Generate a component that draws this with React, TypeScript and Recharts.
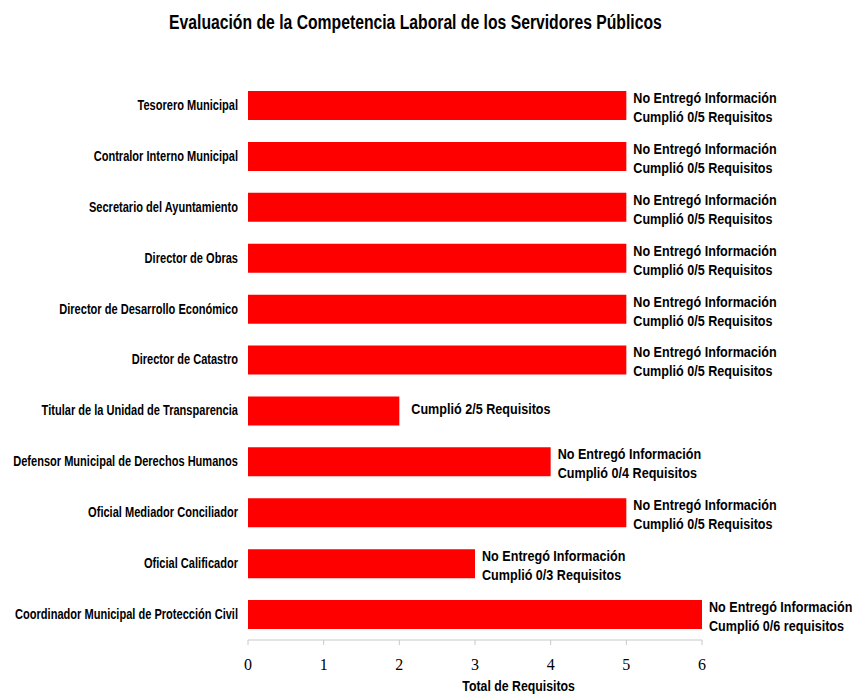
import React from 'react';
import { BarChart, Bar, XAxis, YAxis, LabelList } from 'recharts';

const categories = [
  'Tesorero Municipal',
  'Contralor Interno Municipal',
  'Secretario del Ayuntamiento',
  'Director de Obras',
  'Director de Desarrollo Económico',
  'Director de Catastro',
  'Titular de la Unidad de Transparencia',
  'Defensor Municipal de Derechos Humanos',
  'Oficial Mediador Conciliador',
  'Oficial Calificador',
  'Coordinador Municipal de Protección Civil',
];

const totals = [5, 5, 5, 5, 5, 5, 2, 4, 5, 3, 6];

const labelLine1 = [
  'No Entregó Información',
  'No Entregó Información',
  'No Entregó Información',
  'No Entregó Información',
  'No Entregó Información',
  'No Entregó Información',
  '',
  'No Entregó Información',
  'No Entregó Información',
  'No Entregó Información',
  'No Entregó Información',
];

const labelLine2 = [
  'Cumplió 0/5 Requisitos',
  'Cumplió 0/5 Requisitos',
  'Cumplió 0/5 Requisitos',
  'Cumplió 0/5 Requisitos',
  'Cumplió 0/5 Requisitos',
  'Cumplió 0/5 Requisitos',
  'Cumplió 2/5 Requisitos',
  'Cumplió 0/4 Requisitos',
  'Cumplió 0/5 Requisitos',
  'Cumplió 0/3 Requisitos',
  'Cumplió 0/6 requisitos',
];

const xTicks = [0, 1, 2, 3, 4, 5, 6];
const bandEdges = [0, 1, 2, 3, 4, 5, 6, 7, 8, 9, 10, 11];

const data = categories.map((name, i) => ({
  name,
  value: totals[i],
  l1: labelLine1[i],
  l2: labelLine2[i],
}));

const SANS = '"Liberation Sans", Arial, sans-serif';
const SERIF = '"Liberation Serif", "Times New Roman", serif';

const boldStyle = (size: number) =>
  ({ fontFamily: SANS, fontWeight: 700, fontSize: size, fill: '#000' } as any);

const NarrowText = ({ x, y, anchor, size, scale, children }: any) => (
  <text
    transform={`translate(${x},${y}) scale(${scale},1)`}
    x={0}
    y={0}
    textAnchor={anchor}
    dominantBaseline="central"
    style={boldStyle(size)}
  >
    {children}
  </text>
);

const CategoryTick = (props: any) => {
  const { x, y, payload } = props;
  return (
    <NarrowText x={Number(x) - 4} y={Number(y)} anchor="end" size={14} scale={0.79}>
      {payload.value}
    </NarrowText>
  );
};

const renderLabel = (props: any) => {
  const { x, y, width, height, index } = props;
  const d = data[index];
  if (!d) return null;
  const end = Number(x) + Number(width);
  const cy = Number(y) + Number(height) / 2;
  if (!d.l1) {
    return (
      <NarrowText x={end + 12} y={cy - 2} anchor="start" size={15} scale={0.84}>
        {d.l2}
      </NarrowText>
    );
  }
  return (
    <g>
      <NarrowText x={end + 7} y={cy - 8} anchor="start" size={15} scale={0.84}>
        {d.l1}
      </NarrowText>
      <NarrowText x={end + 7} y={cy + 11} anchor="start" size={15} scale={0.84}>
        {d.l2}
      </NarrowText>
    </g>
  );
};

export default function App() {
  return (
    <div
      style={{
        position: 'absolute',
        left: 0,
        top: 0,
        width: 856,
        height: 694,
        background: '#fff',
        overflow: 'hidden',
      }}
    >
      <div
        style={{
          position: 'absolute',
          left: 0,
          top: 10,
          width: 830,
          textAlign: 'center',
          fontFamily: SANS,
          fontWeight: 700,
          fontSize: 20,
          color: '#000',
          lineHeight: '24px',
          whiteSpace: 'nowrap',
        }}
      >
        <span style={{ display: 'inline-block', transform: 'scaleX(0.786)' }}>
          Evaluación de la Competencia Laboral de los Servidores Públicos
        </span>
      </div>
      <div
        style={{
          position: 'absolute',
          left: 419,
          top: 678,
          width: 200,
          textAlign: 'center',
          fontFamily: SANS,
          fontWeight: 700,
          fontSize: 15,
          color: '#000',
          lineHeight: '15px',
          whiteSpace: 'nowrap',
        }}
      >
        <span style={{ display: 'inline-block', transform: 'scaleX(0.82)' }}>
          Total de Requisitos
        </span>
      </div>
      <BarChart
        width={856}
        height={694}
        data={data}
        layout="vertical"
        margin={{ top: 80, right: 154, bottom: 0, left: 0 }}
        barSize={29}
      >
        <XAxis
          type="number"
          domain={[0, 6]}
          ticks={xTicks}
          interval={0}
          height={54}
          stroke="#c8c8c8"
          tickSize={5}
          tickMargin={14}
          tick={{ fontFamily: SERIF, fontSize: 16, fill: '#000' }}
        />
        <YAxis
          yAxisId="edges"
          type="number"
          domain={[0, 11]}
          ticks={bandEdges}
          interval={0}
          width={0}
          stroke="#c8c8c8"
          tickSize={4}
          tick={false}
        />
        <YAxis
          yAxisId="cat"
          type="category"
          dataKey="name"
          width={248}
          axisLine={false}
          tickLine={false}
          tickMargin={0}
          interval={0}
          tick={<CategoryTick />}
        />
        <Bar yAxisId="cat" dataKey="value" fill="#ff0000" isAnimationActive={false}>
          <LabelList dataKey="value" content={renderLabel} />
        </Bar>
      </BarChart>
    </div>
  );
}
